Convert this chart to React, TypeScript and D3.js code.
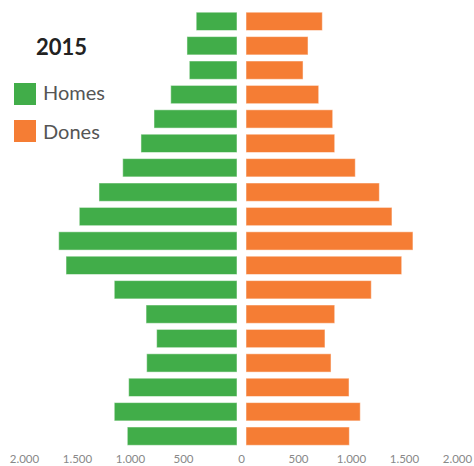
import React from "react";
import * as d3 from "d3";

const ageGroups = [
  "85+", "80-84", "75-79", "70-74", "65-69", "60-64", "55-59", "50-54", "45-49",
  "40-44", "35-39", "30-34", "25-29", "20-24", "15-19", "10-14", "5-9", "0-4",
];
const homes = [385, 472, 450, 625, 783, 906, 1078, 1302, 1488, 1682, 1613, 1158, 858, 758, 852, 1022, 1158, 1035];
const dones = [720, 585, 538, 686, 818, 837, 1031, 1258, 1377, 1575, 1469, 1182, 837, 745, 802, 972, 1078, 975];
const tickValues = [0, 500, 1000, 1500, 2000];
const seriesNames = ["Homes", "Dones"];
const seriesColors = ["#41ad49", "#f57d34"];
const title = "2015";

const W = 474;
const H = 466;

export default function App() {
  const y = d3
    .scaleBand<string>()
    .domain(ageGroups)
    .range([9.15, 448.35])
    .paddingInner(0.25)
    .paddingOuter(0.125);
  const xLeft = d3.scaleLinear().domain([0, 2000]).range([237, 25]);
  const xRight = d3.scaleLinear().domain([0, 2000]).range([246, 458]);
  const fmt = (v: number) =>
    d3.formatLocale({ decimal: ",", thousands: ".", grouping: [3], currency: ["", "€"] }).format(",")(v);

  return (
    <svg
      width={W}
      height={H}
      style={{ position: "absolute", left: 0, top: 0, fontFamily: "Lato, 'Open Sans', sans-serif" }}
    >
      <rect width={W} height={H} fill="#fff" />
      {ageGroups.map((g, i) => (
        <g key={g}>
          <rect
            x={xLeft(homes[i])}
            y={y(g)}
            width={xLeft(0) - xLeft(homes[i])}
            height={y.bandwidth()}
            fill={seriesColors[0]}
            stroke="#ffffff"
            strokeOpacity={0.5}
            strokeWidth={1}
          />
          <rect
            x={xRight(0)}
            y={y(g)}
            width={xRight(dones[i]) - xRight(0)}
            height={y.bandwidth()}
            fill={seriesColors[1]}
            stroke="#ffffff"
            strokeOpacity={0.5}
            strokeWidth={1}
          />
        </g>
      ))}
      {tickValues.map((t) =>
        t === 0 ? (
          <text key="z" x={241.5} y={462.5} fontSize={11.5} fill="#888" textAnchor="middle">
            0
          </text>
        ) : (
          <g key={t}>
            <text x={xLeft(t) - 0.5} y={462.5} fontSize={11.5} fill="#888" textAnchor="middle">
              {fmt(t)}
            </text>
            <text x={xRight(t) - 0.5} y={462.5} fontSize={11.5} fill="#888" textAnchor="middle">
              {fmt(t)}
            </text>
          </g>
        )
      )}
      <text x={36} y={55} fontSize={22} fontWeight="bold" fill="#222">
        {title}
      </text>
      {seriesNames.map((s, i) => (
        <g key={s}>
          <rect x={14} y={83 + i * 37} width={22} height={22} fill={seriesColors[i]} />
          <text x={43} y={100 + i * 38.5} fontSize={20} fill="#555">
            {s}
          </text>
        </g>
      ))}
    </svg>
  );
}
